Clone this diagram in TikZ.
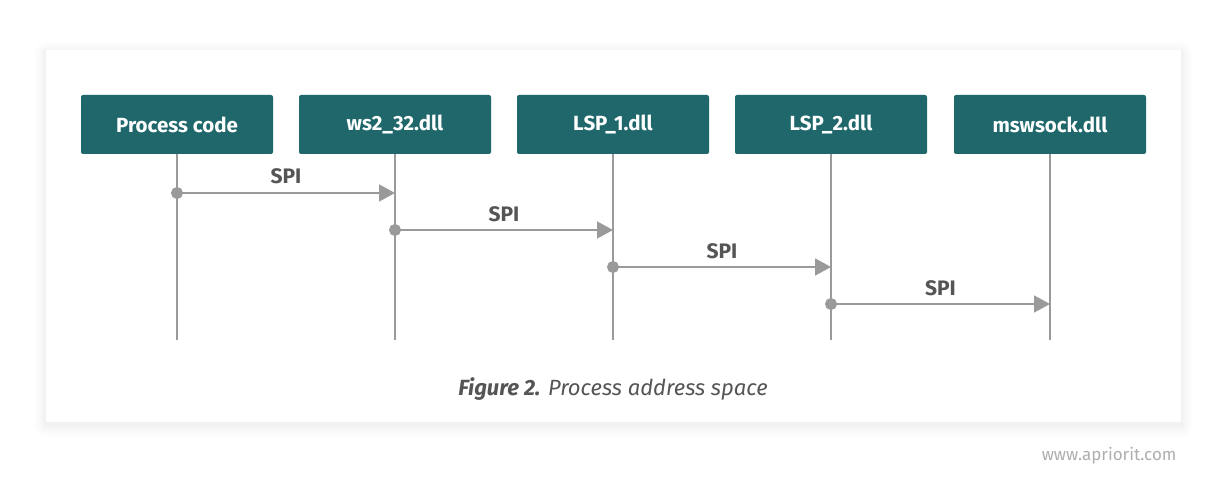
\documentclass[tikz,border=0pt]{standalone}
\usepackage{fontspec}
\setmainfont{Fira Sans}
\usetikzlibrary{arrows.meta}
\definecolor{teal1}{HTML}{1F676B}
\definecolor{lin}{HTML}{9A9A9A}
\definecolor{txt}{HTML}{555555}
\begin{document}
\begin{tikzpicture}[x=1pt,y=-1pt,
  box/.style={fill=teal1,rounded corners=2pt,minimum width=192pt,minimum height=59pt,inner sep=0pt,text=white,font=\fontsize{20.5}{22}\selectfont\bfseries},
  life/.style={draw=lin,line width=1.6pt},
  msg/.style={draw=lin,line width=1.6pt,{Circle[length=12pt,width=12pt]}-{Triangle[length=16pt,width=17pt]},shorten <=-6pt},
  lbl/.style={text=txt,font=\fontsize{21}{23}\selectfont\bfseries,anchor=base}]
\useasboundingbox (0,0) rectangle (1225,489);
\fill[white] (0,0) rectangle (1225,489);
% shadow
\foreach \i/\o in {12/0.005,10/0.006,8/0.007,6/0.008,4/0.01,2/0.012}{
  \fill[black,opacity=\o,rounded corners=\i pt] (46-\i,50-\i+3) rectangle (1181+\i,422+\i+3);
}
\fill[white] (46,50) rectangle (1181,422);
\node[box] (b1) at (177,124.5) {Process code};
\node[box] (b2) at (395,124.5) {ws2\_32.dll};
\node[box] (b3) at (613,124.5) {LSP\_1.dll};
\node[box] (b4) at (831,124.5) {LSP\_2.dll};
\node[box] (b5) at (1050,124.5) {mswsock.dll};
\foreach \n/\x in {1/177,2/395,3/613,4/831,5/1050}{
  \coordinate (e\n) at (\x,340);
  \draw[life] (b\n.south) -- (e\n);
}
\coordinate (s1) at (177,193); \coordinate (t1) at (395,193);
\coordinate (s2) at (395,230); \coordinate (t2) at (613,230);
\coordinate (s3) at (613,267); \coordinate (t3) at (831,267);
\coordinate (s4) at (831,304); \coordinate (t4) at (1050,304);
\foreach \k in {1,2,3,4}{
  \draw[msg] (s\k) -- (t\k) node[lbl,midway,yshift=9pt] (l\k) {SPI};
}
\node[text=txt,font=\fontsize{22}{24}\selectfont\itshape,anchor=base] (cap) at (613,395) {\textbf{Figure 2.} Process address space};
\node[text=lin!80,font=\fontsize{17}{19}\selectfont,anchor=base east] (wm) at (1180,460) {www.apriorit.com};
\end{tikzpicture}
\end{document}
